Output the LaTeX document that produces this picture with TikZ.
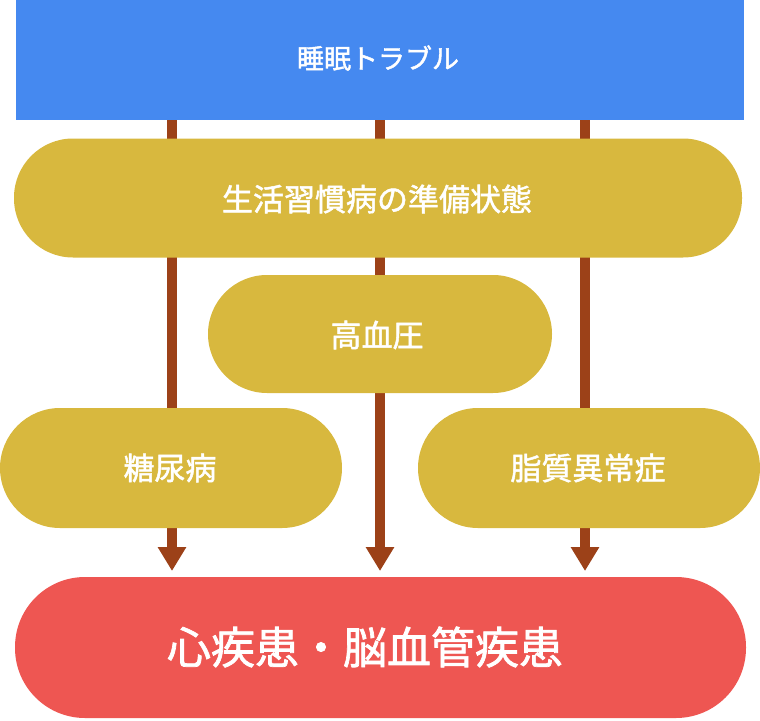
\documentclass[tikz,border=0pt]{standalone}
\usepackage{fontspec}
\newfontfamily\jp[FakeBold=1.6]{Noto Sans CJK JP}
\usetikzlibrary{arrows.meta}
\definecolor{topblue}{RGB}{69,137,240}
\definecolor{mustard}{RGB}{216,184,62}
\definecolor{redbox}{RGB}{238,86,82}
\definecolor{brownarrow}{RGB}{156,65,24}
\tikzset{
  pill/.style={fill=mustard, draw=none, rounded corners=59pt, minimum height=119pt, inner sep=0pt},
  lbl/.style={text=white, font=\jp\fontsize{31}{31}\selectfont},
  flow/.style={draw=brownarrow, line width=10pt, -{Triangle[width=27pt,length=24pt]}},
}
\begin{document}
\begin{tikzpicture}[x=1pt,y=-1pt]
\useasboundingbox (0,0) rectangle (760,720);
% top box
\node[fill=topblue, minimum width=728pt, minimum height=120pt, inner sep=0pt, anchor=north west] (top) at (16,0) {};
\node[lbl, font=\jp\fontsize{27}{27}\selectfont] (toplabel) at (378,58) {睡眠トラブル};
% arrow end points
\coordinate (t1) at (172,571);
\coordinate (t2) at (380,571);
\coordinate (t3) at (585,571);
\draw[flow] (top.south -| t1) -- (t1);
\draw[flow] (top.south -| t2) -- (t2);
\draw[flow] (top.south -| t3) -- (t3);
% pills
\node[pill, minimum width=728pt] (prep) at (378,198) {};
\node[lbl] (preplabel) at (377,199) {生活習慣病の準備状態};
\node[pill, minimum width=344pt, minimum height=118pt] (hbp) at (380,334) {};
\node[lbl] (hbplabel) at (377,335) {高血圧};
\node[pill, minimum width=342pt, minimum height=120pt, rounded corners=60pt] (dm) at (171,468) {};
\node[lbl] (dmlabel) at (170,468) {糖尿病};
\node[pill, minimum width=342pt, minimum height=120pt, rounded corners=60pt] (dl) at (589,468) {};
\node[lbl] (dllabel) at (588,468) {脂質異常症};
% bottom
\node[fill=redbox, minimum width=731pt, minimum height=141pt, rounded corners=70pt, inner sep=0pt] (bottom) at (380.5,647.5) {};
\node[lbl, font=\jp\fontsize{44}{44}\selectfont] (bottomlabel) at (365,647) {心疾患・脳血管疾患};
\end{tikzpicture}
\end{document}
